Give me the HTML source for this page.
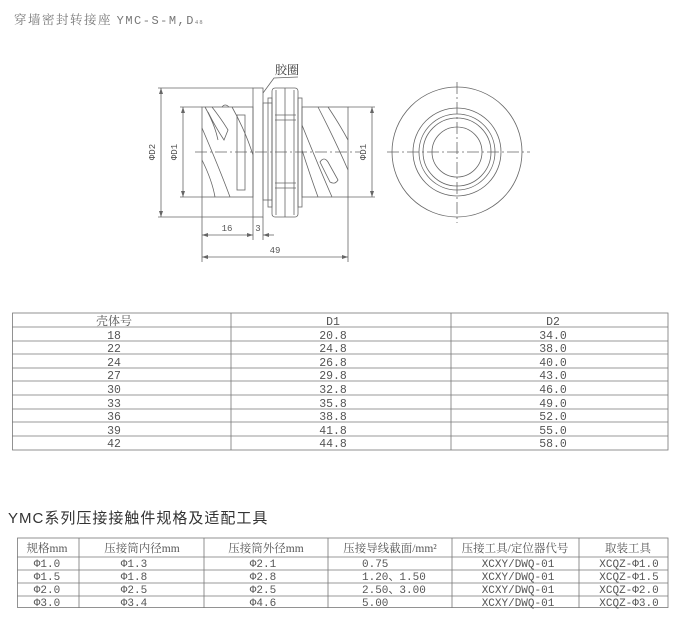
<!DOCTYPE html>
<html><head><meta charset="utf-8"><style>
html,body{margin:0;padding:0;background:#fff;}
svg{display:block;}
.t{font-family:"Liberation Mono","Noto Sans CJK SC",monospace;fill:#555;font-size:11.5px;}
.c{font-family:"Liberation Serif","Noto Serif CJK SC",serif;fill:#555;font-size:12px;}
</style></head><body>
<svg width="700" height="627" viewBox="0 0 700 627" xmlns="http://www.w3.org/2000/svg">
<rect width="700" height="627" fill="#fff"/>
<text x="14" y="24" class="c" style="font-size:12.5px;letter-spacing:1.5px;fill:#777">穿墙密封转接座 <tspan class="t" style="font-size:12px;fill:#777">YMC-S-M,D</tspan><tspan style="font-size:6px">48</tspan></text>

<g stroke="#666" stroke-width="0.8" fill="none">
<!-- center line -->
<line x1="195" y1="152" x2="360" y2="152" stroke-dasharray="12,3,2,3"/>
<!-- left body -->
<rect x="202" y="107" width="51" height="90"/>
<rect x="237" y="115" width="8" height="75"/>
<path d="M205 107 Q215 125 218 140 M202 128 Q220 170 230 197 M212 107 Q222 120 228 130 L224 140 Q216 128 208 112"/>
<path d="M202 160 Q212 180 215 197 M232 107 Q245 130 253 155 M222 107 q3 -4 7 0"/>
<!-- flange -->
<rect x="253" y="88" width="10" height="129"/>
<rect x="263" y="103" width="9" height="97"/>
<!-- nut -->
<rect x="272" y="88" width="26" height="129" rx="3"/>
<line x1="276" y1="90" x2="276" y2="215"/><line x1="285" y1="88" x2="285" y2="217"/><line x1="294" y1="90" x2="294" y2="215"/>
<line x1="275" y1="115" x2="296" y2="115"/><line x1="275" y1="120" x2="296" y2="120"/>
<line x1="275" y1="183" x2="296" y2="183"/><line x1="275" y1="188" x2="296" y2="188"/>
<rect x="268" y="98" width="4" height="109"/><rect x="298" y="98" width="4" height="109"/>
<!-- right body -->
<rect x="302" y="107" width="46" height="90"/>
<path d="M318 107 Q335 140 348 170 M328 107 Q340 125 348 140 M302 125 Q318 165 332 197 M302 150 Q310 175 318 197"/>
<path d="M320 162 q4 -6 8 0 L338 180 q-3 5 -8 2 Z"/>
<!-- leader -->
<polyline points="298,77 274,78 263,93"/>
<!-- extension lines -->
<line x1="158" y1="88" x2="253" y2="88"/><line x1="158" y1="217" x2="253" y2="217"/>
<line x1="180" y1="107" x2="202" y2="107"/><line x1="180" y1="197" x2="202" y2="197"/>
<line x1="348" y1="107" x2="375" y2="107"/><line x1="348" y1="197" x2="375" y2="197"/>
<line x1="161" y1="88" x2="161" y2="217"/><line x1="183" y1="107" x2="183" y2="197"/><line x1="372" y1="107" x2="372" y2="197"/>
<line x1="202" y1="197" x2="202" y2="262"/><line x1="348" y1="197" x2="348" y2="262"/>
<line x1="253" y1="217" x2="253" y2="240"/><line x1="263" y1="217" x2="263" y2="240"/>
<line x1="202" y1="235" x2="253" y2="235"/><line x1="263" y1="235" x2="274" y2="235"/>
<line x1="202" y1="257" x2="348" y2="257"/>
<!-- right view -->
<line x1="387" y1="152" x2="530" y2="152" stroke-dasharray="12,3,2,3"/>
<line x1="457" y1="82" x2="457" y2="223" stroke-dasharray="12,3,2,3"/>
<circle cx="457" cy="152" r="65"/>
<circle cx="457" cy="152" r="44"/>
<circle cx="457" cy="152" r="38"/>
<circle cx="457" cy="152" r="34"/>
<circle cx="457" cy="152" r="25"/>
</g>
<g fill="#666">
<path d="M161 88 l-2 6 h4z M161 217 l-2 -6 h4z M183 107 l-2 6 h4z M183 197 l-2 -6 h4z M372 107 l-2 6 h4z M372 197 l-2 -6 h4z"/>
<path d="M202 235 l6 -2 v4z M253 235 l-6 -2 v4z M263 235 l6 -2 v4z M202 257 l6 -2 v4z M348 257 l-6 -2 v4z"/>
</g>
<text x="275" y="74" class="c" style="font-size:12px;fill:#333">胶圈</text>
<g class="t" style="font-size:9px">
<text transform="translate(155,152) rotate(-90)" text-anchor="middle">ΦD2</text>
<text transform="translate(177,152) rotate(-90)" text-anchor="middle">ΦD1</text>
<text transform="translate(366,152) rotate(-90)" text-anchor="middle">ΦD1</text>
<text x="227" y="231" text-anchor="middle">16</text>
<text x="258" y="231" text-anchor="middle">3</text>
<text x="275" y="253" text-anchor="middle">49</text>
</g>

<!-- table 1 -->
<g stroke="#777" stroke-width="0.8" fill="none">
<rect x="12.5" y="313" width="655.5" height="137"/>
<line x1="231" y1="313" x2="231" y2="450"/><line x1="451" y1="313" x2="451" y2="450"/>
<line x1="12" y1="327" x2="668" y2="327"/><line x1="12" y1="341" x2="668" y2="341"/>
<line x1="12" y1="354" x2="668" y2="354"/><line x1="12" y1="368" x2="668" y2="368"/>
<line x1="12" y1="381" x2="668" y2="381"/><line x1="12" y1="395" x2="668" y2="395"/>
<line x1="12" y1="409" x2="668" y2="409"/><line x1="12" y1="422" x2="668" y2="422"/>
<line x1="12" y1="436" x2="668" y2="436"/>
</g>
<g class="t" text-anchor="middle">
<text x="114" y="325" class="c">壳体号</text><text x="333" y="325">D1</text><text x="553" y="325">D2</text>
<text x="114" y="339">18</text><text x="333" y="339">20.8</text><text x="553" y="339">34.0</text>
<text x="114" y="352">22</text><text x="333" y="352">24.8</text><text x="553" y="352">38.0</text>
<text x="114" y="366">24</text><text x="333" y="366">26.8</text><text x="553" y="366">40.0</text>
<text x="114" y="379">27</text><text x="333" y="379">29.8</text><text x="553" y="379">43.0</text>
<text x="114" y="393">30</text><text x="333" y="393">32.8</text><text x="553" y="393">46.0</text>
<text x="114" y="407">33</text><text x="333" y="407">35.8</text><text x="553" y="407">49.0</text>
<text x="114" y="420">36</text><text x="333" y="420">38.8</text><text x="553" y="420">52.0</text>
<text x="114" y="434">39</text><text x="333" y="434">41.8</text><text x="553" y="434">55.0</text>
<text x="114" y="447">42</text><text x="333" y="447">44.8</text><text x="553" y="447">58.0</text>
</g>

<text x="8" y="523" style="font-family:'Liberation Sans','Noto Sans CJK SC',sans-serif;font-size:15px;fill:#333;letter-spacing:1px">YMC系列压接接触件规格及适配工具</text>

<!-- table 2 -->
<g stroke="#777" stroke-width="0.8" fill="none">
<rect x="17.5" y="538" width="650.5" height="69.5"/>
<line x1="79" y1="538" x2="79" y2="608"/><line x1="204" y1="538" x2="204" y2="608"/>
<line x1="328" y1="538" x2="328" y2="608"/><line x1="452" y1="538" x2="452" y2="608"/>
<line x1="579" y1="538" x2="579" y2="608"/>
<line x1="17" y1="557" x2="668" y2="557"/><line x1="17" y1="570" x2="668" y2="570"/>
<line x1="17" y1="583" x2="668" y2="583"/><line x1="17" y1="596" x2="668" y2="596"/>
</g>
<g class="c" text-anchor="middle" style="font-size:11.5px">
<text x="47" y="552">规格mm</text><text x="142" y="552">压接筒内径mm</text><text x="266" y="552">压接筒外径mm</text>
<text x="390" y="552">压接导线截面/mm²</text><text x="515" y="552">压接工具/定位器代号</text><text x="628" y="552">取装工具</text>
</g>
<g class="t" style="font-size:11px">
<g text-anchor="middle">
<text x="47" y="567">Φ1.0</text><text x="134" y="567">Φ1.3</text><text x="263" y="567">Φ2.1</text><text x="518" y="567">XCXY/DWQ-01</text><text x="629" y="567">XCQZ-Φ1.0</text>
<text x="47" y="580">Φ1.5</text><text x="134" y="580">Φ1.8</text><text x="263" y="580">Φ2.8</text><text x="518" y="580">XCXY/DWQ-01</text><text x="629" y="580">XCQZ-Φ1.5</text>
<text x="47" y="593">Φ2.0</text><text x="134" y="593">Φ2.5</text><text x="263" y="593">Φ2.5</text><text x="518" y="593">XCXY/DWQ-01</text><text x="629" y="593">XCQZ-Φ2.0</text>
<text x="47" y="606">Φ3.0</text><text x="134" y="606">Φ3.4</text><text x="263" y="606">Φ4.6</text><text x="518" y="606">XCXY/DWQ-01</text><text x="629" y="606">XCQZ-Φ3.0</text>
</g>
<text x="362" y="567">0.75</text><text x="362" y="580">1.20、1.50</text><text x="362" y="593">2.50、3.00</text><text x="362" y="606">5.00</text>
</g>
</svg>
</body></html>
